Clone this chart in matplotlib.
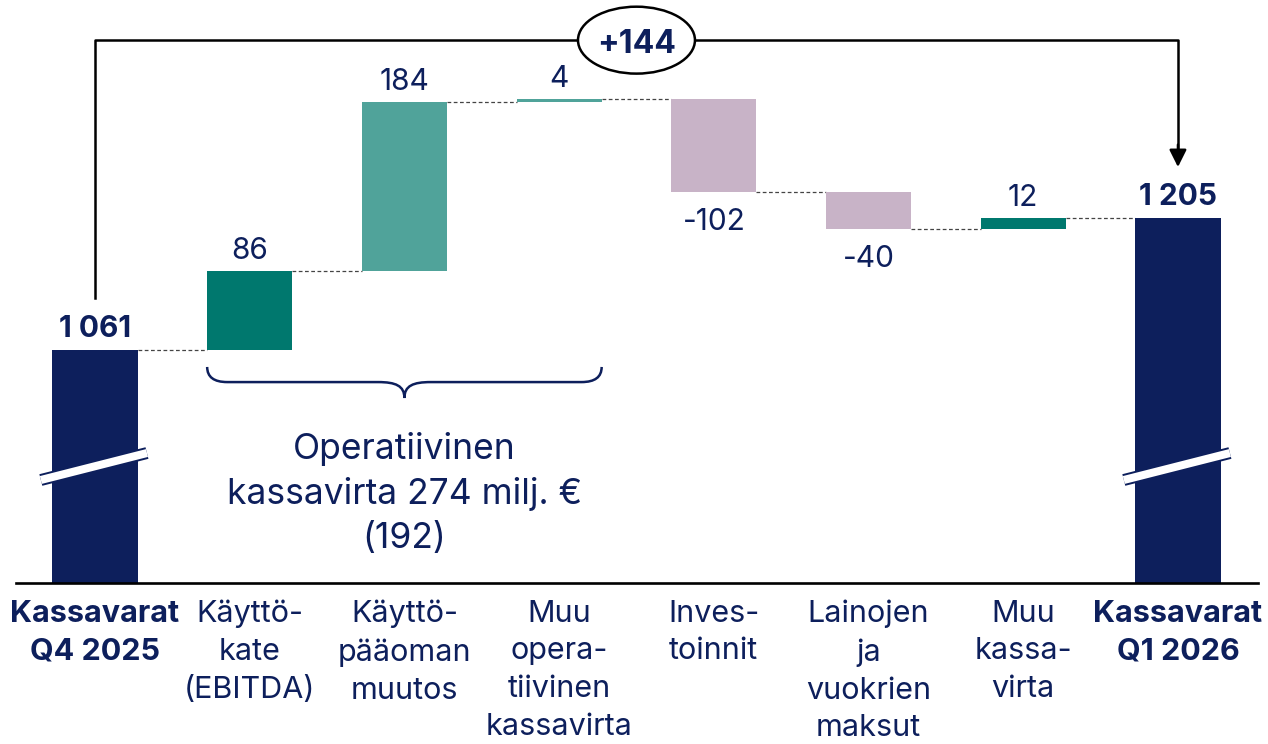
import numpy as np
import matplotlib
matplotlib.use("Agg")
import matplotlib.pyplot as plt
from matplotlib.patches import Ellipse, PathPatch
from matplotlib.path import Path

plt.rcParams['font.family'] = ['Inter', 'DejaVu Sans']

# --- data ---
categories = [
    "Kassavarat\nQ4 2025",
    "Käyttö-\nkate\n(EBITDA)",
    "Käyttö-\npääoman\nmuutos",
    "Muu\nopera-\ntiivinen\nkassavirta",
    "Inves-\ntoinnit",
    "Lainojen\nja\nvuokrien\nmaksut",
    "Muu\nkassa-\nvirta",
    "Kassavarat\nQ1 2026",
]
start_value = 1061
changes = [86, 184, 4, -102, -40, 12]
end_value = 1205
start_label = "1 061"
end_label = "1 205"
change_labels = ["86", "184", "4", "-102", "-40", "12"]
operating_note = "Operatiivinen\nkassavirta 274 milj. €\n(192)"

# --- style ---
NAVY = "#0D1F5C"
TEAL = "#00786E"
TEAL_LIGHT = "#50A39A"
MAUVE = "#C8B3C7"
change_colors = [TEAL, TEAL_LIGHT, TEAL_LIGHT, MAUVE, MAUVE, TEAL]
base = 807          # broken-axis floor for the two total bars
width = 0.55
VAL_FS = 21.5

fig = plt.figure(figsize=(12.68, 7.44), dpi=100)
ax = fig.add_axes([0, 0, 1, 1])
ax.set_xlim(-0.614, 7.582)
ax.set_ylim(631.2, 1442.8)
ax.axis("off")

n = len(categories)

# totals
ax.bar([0, n - 1], [start_value - base, end_value - base], bottom=base,
       width=width, color=NAVY, zorder=2)

# floating changes
level = start_value
spans = []
for i, (d, c) in enumerate(zip(changes, change_colors), start=1):
    lo = level if d >= 0 else level + d
    ax.bar(i, abs(d), bottom=lo, width=width, color=c, zorder=2)
    # connector from previous bar
    ax.plot([i - 1 + width / 2, i - width / 2], [level, level],
            color="#444444", lw=0.9, ls=(0, (3, 2)), zorder=1)
    level += d
    spans.append((lo, lo + abs(d)))
ax.plot([n - 2 + width / 2, n - 1 - width / 2], [level, level],
        color="#444444", lw=0.9, ls=(0, (3, 2)), zorder=1)

# value labels
for xi, val, lab in [(0, start_value, start_label), (n - 1, end_value, end_label)]:
    ax.annotate(lab, (xi, val), xytext=(0, 15), textcoords="offset points",
                ha="center", va="center", fontsize=VAL_FS, fontweight="bold", color=NAVY)
for i, (d, lab, (lo, hi)) in enumerate(zip(changes, change_labels, spans), start=1):
    if d >= 0:
        ax.annotate(lab, (i, hi), xytext=(0, 14.5), textcoords="offset points",
                    ha="center", va="center", fontsize=VAL_FS, color=NAVY)
    else:
        ax.annotate(lab, (i, lo), xytext=(0, -21.5), textcoords="offset points",
                    ha="center", va="center", fontsize=VAL_FS, color=NAVY)

# axis break marks
for i in [0, n - 1]:
    ax.plot([i - 0.35, i + 0.336], [919.2, 948.6], color=NAVY, lw=8.6,
            solid_capstyle="butt", zorder=3)
    ax.plot([i - 0.35, i + 0.336], [919.2, 948.6], color="white", lw=5.8,
            solid_capstyle="butt", zorder=4)

# baseline
ax.plot([-0.511, 7.518], [base, base], color="black", lw=1.9, zorder=5)

# category labels
for i, lab in enumerate(categories):
    bold = i in (0, n - 1)
    ax.annotate(lab, (i, base), xytext=(0, -12), textcoords="offset points",
                ha="center", va="top", fontsize=22, color=NAVY,
                fontweight="bold" if bold else "normal", linespacing=1.45)

# total change bracket with arrow
top_y = 1399
ax.plot([0, 0, n - 1, n - 1], [1117.7, top_y, top_y, 1275], color="black", lw=1.8, zorder=3)
ax.annotate("", xy=(n - 1, 1260.6), xytext=(n - 1, 1285),
            arrowprops=dict(arrowstyle="-|>", color="black", lw=1.8,
                            mutation_scale=26, shrinkA=0, shrinkB=0))
ax.add_patch(Ellipse((3.5, top_y), 0.756, 73, fc="white", ec="black", lw=1.8, zorder=6))
ax.text(3.5, top_y - 4.5, f"+{end_value - start_value}", ha="center", va="center",
        fontsize=23, fontweight="bold", color=NAVY, zorder=7)

# curly brace under operating cash flow items
x0, x1 = 1 - width / 2, 3 + width / 2
xc = (x0 + x1) / 2
y_top, y_mid, y_bot = 1042.5, 1026, 1008.6
rx = 0.13
cx = 0.17
verts = [
    (x0, y_top), (x0, y_mid), (x0 + rx, y_mid),
    (xc - cx, y_mid),
    (xc - cx / 3, y_mid), (xc, y_mid - 4), (xc, y_bot),
    (xc, y_mid - 4), (xc + cx / 3, y_mid), (xc + cx, y_mid),
    (x1 - rx, y_mid),
    (x1, y_mid), (x1, y_top),
]
codes = [Path.MOVETO, Path.CURVE3, Path.CURVE3, Path.LINETO,
         Path.CURVE4, Path.CURVE4, Path.CURVE4,
         Path.CURVE4, Path.CURVE4, Path.CURVE4,
         Path.LINETO, Path.CURVE3, Path.CURVE3]
ax.add_patch(PathPatch(Path(verts, codes), fc="none", ec=NAVY, lw=1.8, zorder=3))

ax.text(xc, 972, operating_note, ha="center", va="top", fontsize=25.5,
        color=NAVY, linespacing=1.42)

fig.savefig("out.png", dpi=100)
